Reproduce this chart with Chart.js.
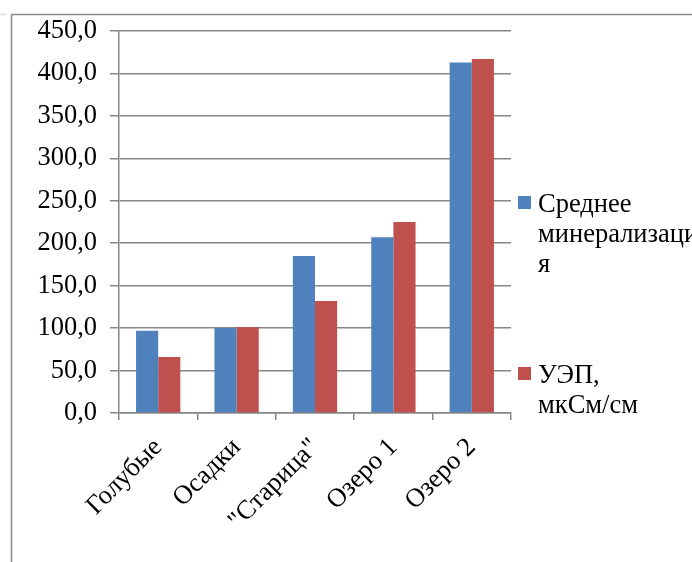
<!DOCTYPE html>
<html>
<head>
<meta charset="utf-8">
<script src="https://cdn.jsdelivr.net/npm/chart.js@4/dist/chart.umd.min.js"></script>
<style>
  body { margin: 0; background: #fff; }
  canvas { display: block; }
</style>
</head>
<body>
<canvas id="chart" width="692" height="562"></canvas>
<script>
const categories = ['Голубые', 'Осадки', '"Старица"', 'Озеро 1', 'Озеро 2'];
const seriesNames = ['Среднее минерализация', 'УЭП, мкСм/см'];
const mineralization = [97, 100, 185, 207, 413];
const conductivity = [66, 101, 132, 225, 417];
const yTicks = [0, 50, 100, 150, 200, 250, 300, 350, 400, 450];

// legend text is wrapped the same way as in the picture
const legendLines = [['Среднее', 'минерализаци', 'я'], ['УЭП,', 'мкСм/см']];

const FONT = "'Liberation Serif', 'Times New Roman', serif";
const FONT_SIZE = 26.5;
const GRID = '#878787';

const frame = {
    id: 'frame',
    beforeDraw(chart) {
        const ctx = chart.ctx;
        ctx.save();
        ctx.fillStyle = '#fff';
        ctx.fillRect(0, 0, chart.width, chart.height);
        ctx.strokeStyle = '#8a8a8a';
        ctx.lineWidth = 1.5;
        ctx.beginPath();
        ctx.moveTo(11, 14.5);
        ctx.lineTo(chart.width, 14.5);
        ctx.moveTo(11.5, 14);
        ctx.lineTo(11.5, chart.height);
        ctx.stroke();
        ctx.strokeStyle = '#dddddd';
        ctx.beginPath();
        ctx.moveTo(0, 14.5);
        ctx.lineTo(6, 14.5);
        ctx.stroke();
        ctx.restore();
    }
};

const sideLegend = {
    id: 'sideLegend',
    afterDraw(chart) {
        const ctx = chart.ctx;
        const tops = [212, 383];
        ctx.save();
        ctx.font = FONT_SIZE + 'px ' + FONT;
        ctx.textBaseline = 'alphabetic';
        chart.data.datasets.forEach((ds, i) => {
            const base = tops[i];
            ctx.fillStyle = ds.backgroundColor;
            ctx.fillRect(518, base - 16, 13, 13);
            ctx.fillStyle = '#000';
            legendLines[i].forEach((line, j) => {
                ctx.fillText(line, 538, base + j * 30);
            });
        });
        ctx.restore();
    }
};

new Chart(document.getElementById('chart'), {
    type: 'bar',
    data: {
        labels: categories,
        datasets: [
            {
                label: seriesNames[0],
                data: mineralization,
                backgroundColor: '#4F81BD',
                categoryPercentage: 0.565,
                barPercentage: 1
            },
            {
                label: seriesNames[1],
                data: conductivity,
                backgroundColor: '#C0504D',
                categoryPercentage: 0.565,
                barPercentage: 1
            }
        ]
    },
    options: {
        responsive: false,
        animation: false,
        layout: { padding: { left: 0, top: 31, right: 181, bottom: 0 } },
        plugins: {
            legend: { display: false },
            tooltip: { enabled: false }
        },
        scales: {
            x: {
                afterFit(scale) { scale.height = 149; },
                grid: { drawOnChartArea: false, color: GRID, tickLength: 7, lineWidth: 1.5 },
                border: { color: GRID, width: 1.5 },
                ticks: {
                    minRotation: 45,
                    maxRotation: 45,
                    autoSkip: false,
                    padding: 12,
                    color: '#000',
                    font: { family: FONT, size: FONT_SIZE }
                }
            },
            y: {
                min: 0,
                max: 450,
                afterFit(scale) { scale.width = 119; },
                afterBuildTicks(scale) { scale.ticks = yTicks.map(v => ({ value: v })); },
                grid: { color: GRID, tickLength: 9, lineWidth: 1.5 },
                border: { color: GRID, width: 1.5 },
                ticks: {
                    padding: 13,
                    color: '#000',
                    font: { family: FONT, size: FONT_SIZE },
                    callback: v => v.toFixed(1).replace('.', ',')
                }
            }
        }
    },
    plugins: [frame, sideLegend]
});
</script>
</body>
</html>
